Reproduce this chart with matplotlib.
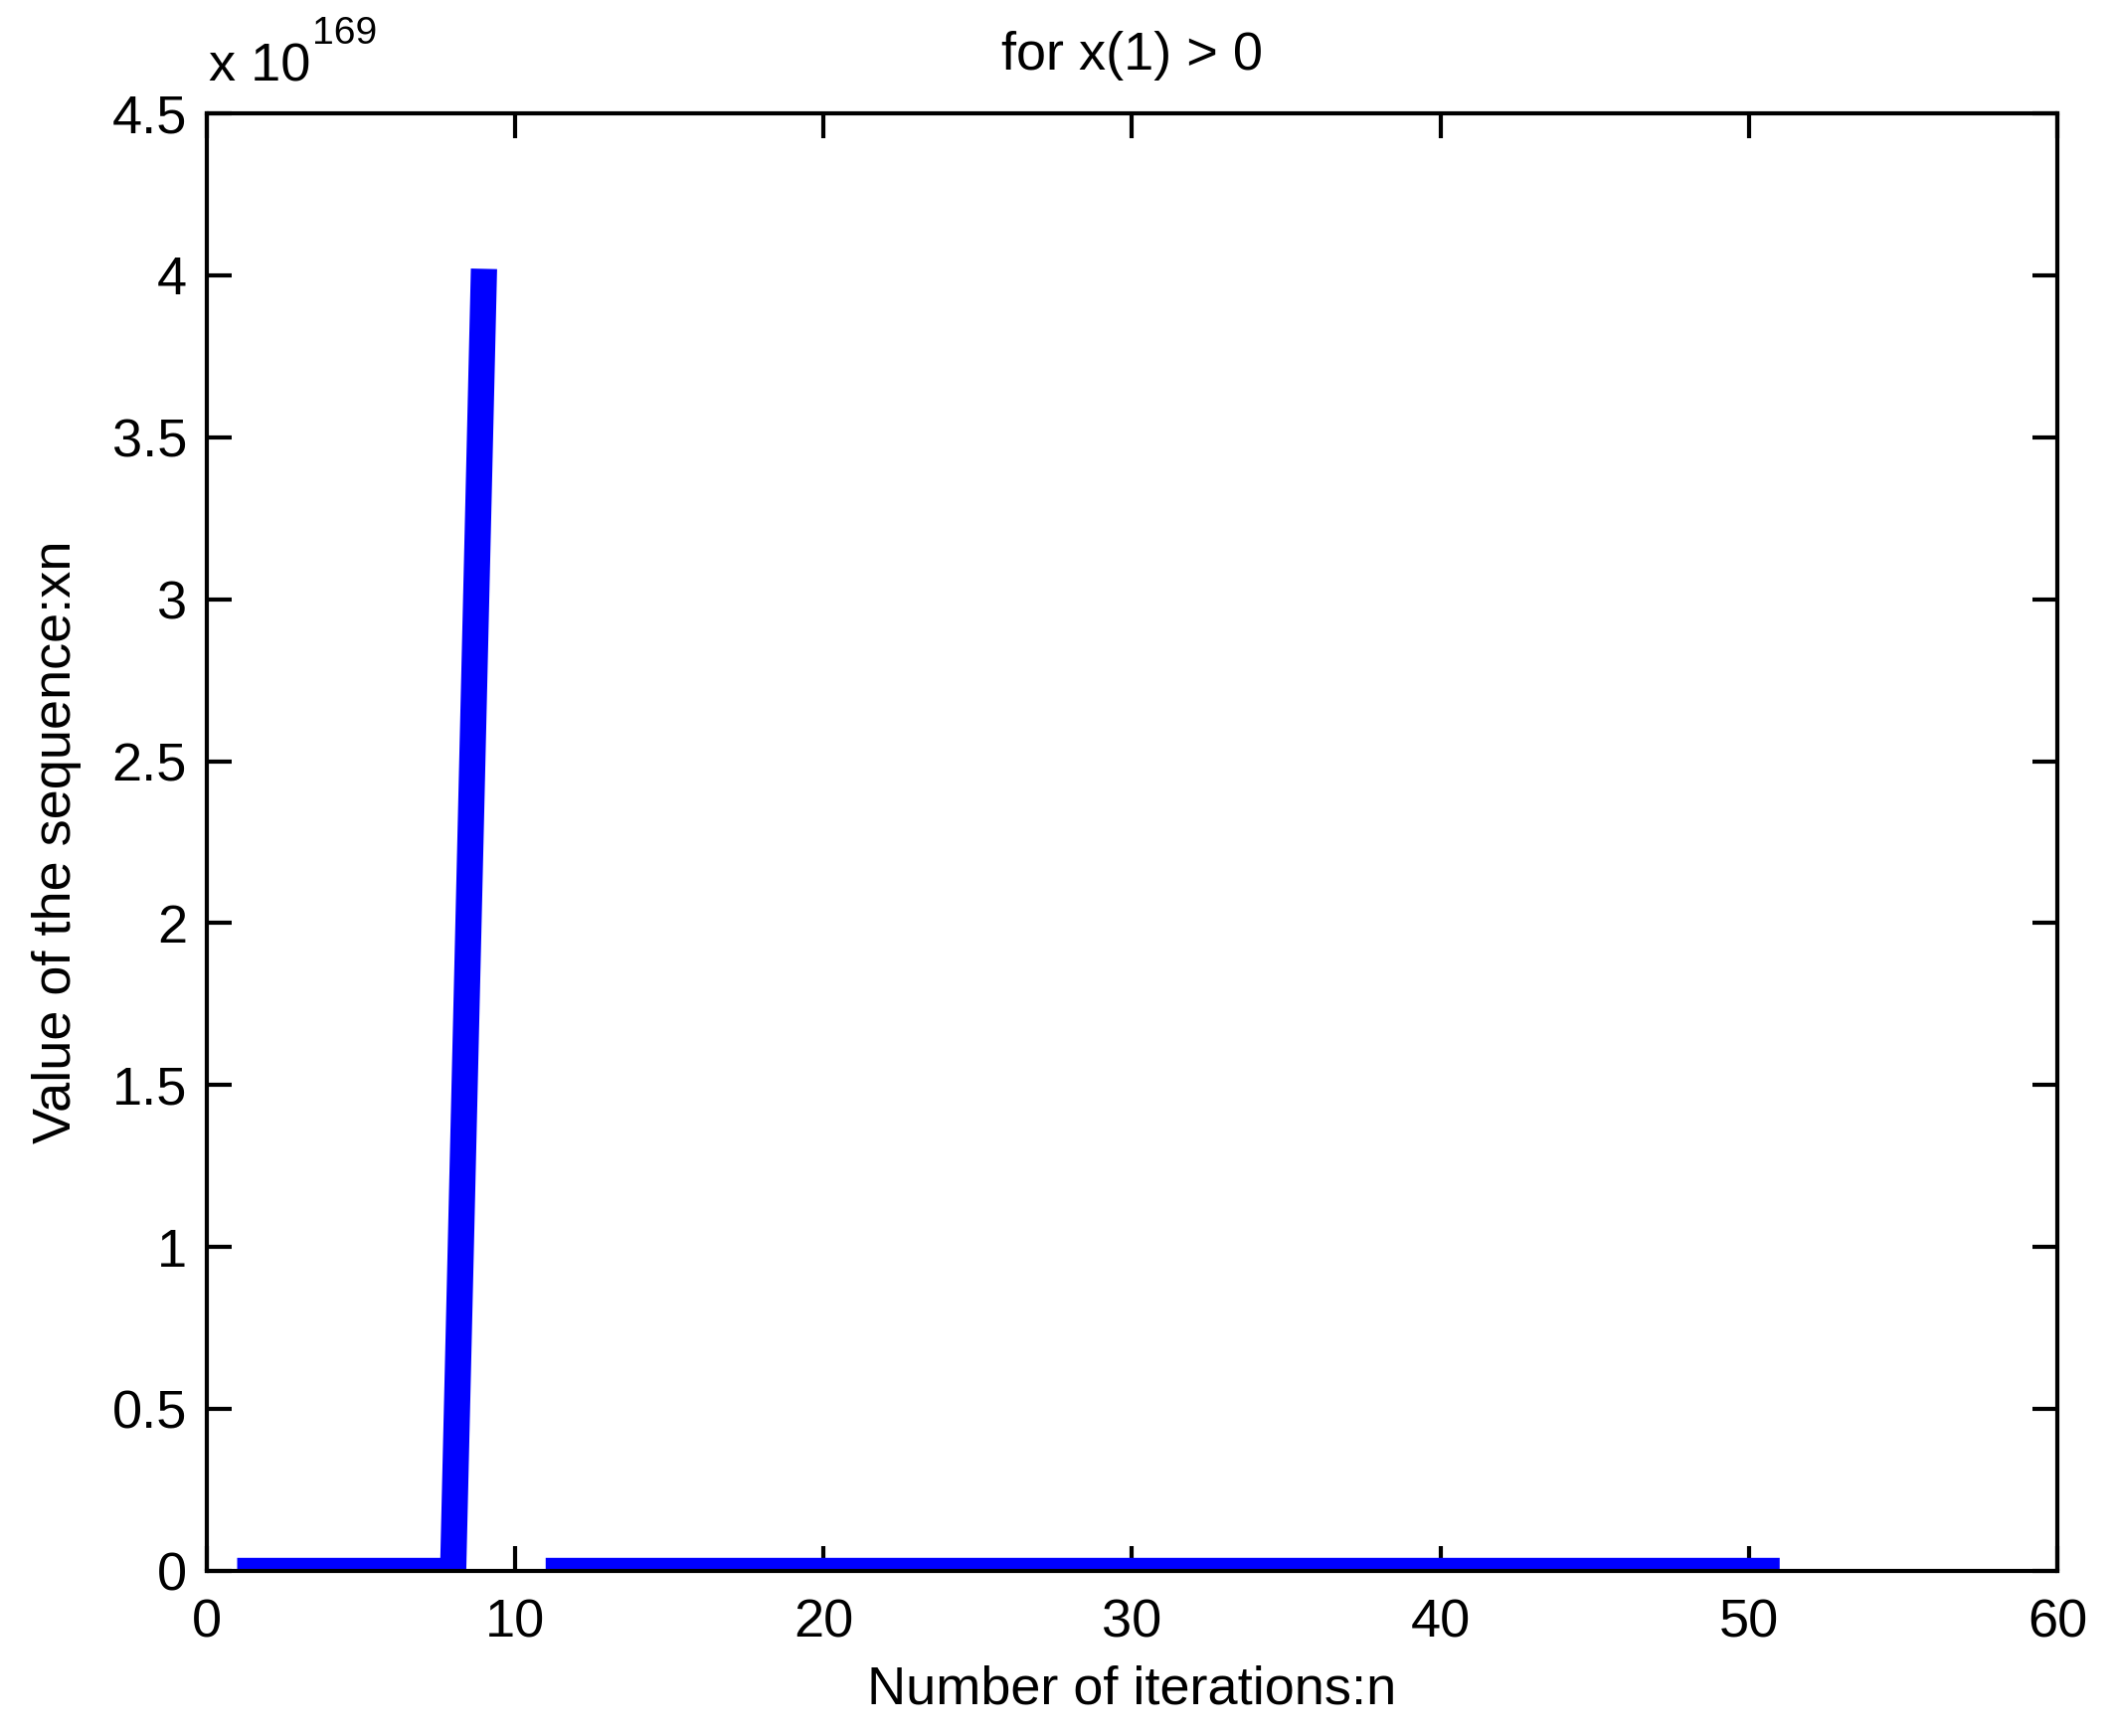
import matplotlib
matplotlib.use("Agg")
import matplotlib.pyplot as plt
import numpy as np
from matplotlib.ticker import FuncFormatter

plt.rcParams['font.family'] = ['Liberation Sans Narrow', 'Liberation Sans', 'DejaVu Sans']

# sequence values (n = 10 overflows -> not drawn)
n = np.arange(1, 52)
xn = [0, 0, 0, 0, 0, 0, 0, 0, 4.02e169, np.nan,
      0, 0, 0, 0, 0, 0, 0, 0, 0, 0,
      0, 0, 0, 0, 0, 0, 0, 0, 0, 0,
      0, 0, 0, 0, 0, 0, 0, 0, 0, 0,
      0, 0, 0, 0, 0, 0, 0, 0, 0, 0,
      0]
scale = 1e169
xticks = [0, 10, 20, 30, 40, 50, 60]
yticks = [0, 0.5, 1, 1.5, 2, 2.5, 3, 3.5, 4, 4.5]

fig = plt.figure(figsize=(21.26, 17.46), dpi=100)
ax = fig.add_axes([207.5/2126, 1 - 1580/1746, (2069-207.5)/2126, (1580-114)/1746])

y = np.array(xn, dtype=float)
ax.plot(n, y, color=(0, 0, 1), lw=19, solid_capstyle='butt', solid_joinstyle='miter')

ax.set_xlim(0, 60)
ax.set_ylim(0, 4.5 * scale)
ax.set_xticks(xticks)
ax.set_yticks([v * scale for v in yticks])
ax.yaxis.set_major_formatter(FuncFormatter(lambda v, p: f"{v/scale:g}"))

fs = 39
ax.tick_params(direction='in', length=18, width=3, top=True, right=True,
               labelsize=fs, pad=14)
ax.tick_params(axis='x', pad=20)
for s in ax.spines.values():
    s.set_linewidth(3)

ax.set_title("for x(1) > 0", fontsize=fs, pad=32)
ax.set_xlabel("Number of iterations:n", fontsize=fs, labelpad=12)
ax.set_ylabel("Value of the sequence:xn", fontsize=fs, labelpad=22)

fig.text(210/2126, 1 - 82/1746, "x 10", fontsize=fs, ha='left', va='baseline')
fig.text(314/2126, 1 - 44/1746, "169", fontsize=fs*0.72, ha='left', va='baseline')

fig.savefig("out.png", dpi=100, facecolor='white')
